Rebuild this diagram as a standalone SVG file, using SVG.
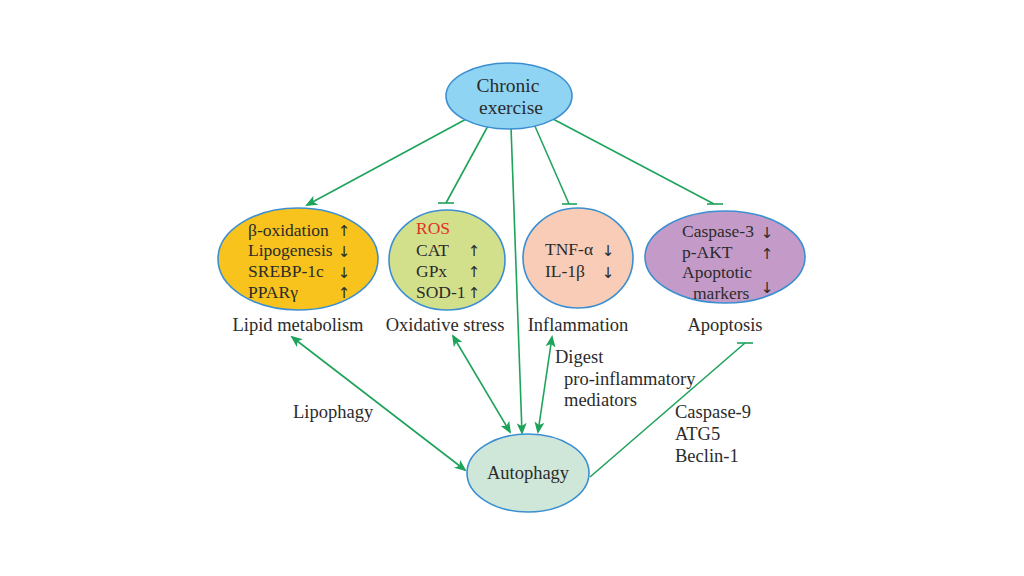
<svg xmlns="http://www.w3.org/2000/svg" width="1024" height="576" viewBox="0 0 1024 576">
<style>
text{font-family:"Liberation Serif","Times New Roman",serif;fill:#2b2b2b;font-size:18.5px}
.in{font-size:17.5px}
.c{text-anchor:middle}
.ar{font-family:"DejaVu Sans",sans-serif;font-size:15px}
.node{stroke:#3b8fd1;stroke-width:1.6}
.ln{stroke:#1ea35a;stroke-width:1.6;fill:none}
</style>
<defs>
<marker id="ah" markerWidth="12" markerHeight="10" refX="10" refY="5" orient="auto-start-reverse" markerUnits="userSpaceOnUse">
<path d="M0,0 L12,5 L0,10 L3,5 Z" fill="#1ea35a"/>
</marker>
</defs>
<rect width="1024" height="576" fill="#ffffff"/>
<g id="connectors">
<line class="ln" x1="470" y1="117" x2="307" y2="205" marker-end="url(#ah)"/>
<line class="ln" x1="489" y1="124" x2="446" y2="203"/>
<line class="ln" x1="438" y1="203" x2="454" y2="203"/>
<line class="ln" x1="511" y1="127" x2="522" y2="433" marker-end="url(#ah)"/>
<line class="ln" x1="534" y1="124" x2="569" y2="204"/>
<line class="ln" x1="562" y1="204" x2="577" y2="204"/>
<line class="ln" x1="553" y1="119" x2="714" y2="204"/>
<line class="ln" x1="707" y1="204" x2="723" y2="204"/>
<line class="ln" x1="292" y1="337" x2="465" y2="470" marker-start="url(#ah)" marker-end="url(#ah)"/>
<line class="ln" x1="453" y1="336" x2="510" y2="432" marker-start="url(#ah)" marker-end="url(#ah)"/>
<line class="ln" x1="552" y1="337" x2="538" y2="432" marker-start="url(#ah)" marker-end="url(#ah)"/>
<line class="ln" x1="590" y1="477" x2="745" y2="343"/>
<line class="ln" x1="737" y1="343" x2="753" y2="343"/>
<text x="293" y="418">Lipophagy</text>
<text x="555" y="363">Digest</text>
<text x="564" y="385">pro-inflammatory</text>
<text x="564" y="406">mediators</text>
<text x="675" y="418">Caspase-9</text>
<text x="675" y="440">ATG5</text>
<text x="675" y="462">Beclin-1</text>
</g>
<g id="chronic">
<ellipse class="node" cx="509" cy="96" rx="63" ry="33" fill="#8fd4f2"/>
<text class="c" x="508" y="92" style="font-size:19.5px">Chronic</text>
<text class="c" x="511" y="114" style="font-size:19.5px">exercise</text>
</g>
<g id="lipid">
<ellipse class="node" cx="298" cy="259" rx="80" ry="51" fill="#f7c31c"/>
<text class="in" x="248" y="236">β-oxidation</text>
<text class="in" x="248" y="256">Lipogenesis</text>
<text class="in" x="248" y="277">SREBP-1c</text>
<text class="in" x="248" y="298">PPARγ</text>
<text class="ar c" x="344" y="236">↑</text>
<text class="ar c" x="344" y="257">↓</text>
<text class="ar c" x="344" y="278">↓</text>
<text class="ar c" x="344" y="298">↑</text>
<text class="c" x="298" y="331">Lipid metabolism</text>
</g>
<g id="oxidative">
<ellipse class="node" cx="447" cy="260" rx="58" ry="50" fill="#d3e08b"/>
<text class="in" x="416" y="234" style="fill:#e2302a">ROS</text>
<text class="in" x="416" y="256">CAT</text>
<text class="in" x="416" y="277">GPx</text>
<text class="in" x="416" y="298">SOD-1</text>
<text class="ar c" x="474" y="256">↑</text>
<text class="ar c" x="474" y="277">↑</text>
<text class="ar c" x="474" y="298">↑</text>
<text class="c" x="445" y="331">Oxidative stress</text>
</g>
<g id="inflammation">
<ellipse class="node" cx="578" cy="258" rx="55" ry="50" fill="#f8ccb6"/>
<text class="in" x="545" y="255">TNF-α</text>
<text class="in" x="545" y="277">IL-1β</text>
<text class="ar c" x="608" y="256">↓</text>
<text class="ar c" x="608" y="278">↓</text>
<text class="c" x="578" y="331">Inflammation</text>
</g>
<g id="apoptosis">
<ellipse class="node" cx="725" cy="257" rx="80" ry="46" fill="#c49bc8"/>
<text class="in" x="682" y="237">Caspase-3</text>
<text class="in" x="682" y="258">p-AKT</text>
<text class="in" x="682" y="278">Apoptotic</text>
<text class="in" x="693" y="299">markers</text>
<text class="ar c" x="767" y="238">↓</text>
<text class="ar c" x="767" y="259">↑</text>
<text class="ar c" x="767" y="293">↓</text>
<text class="c" x="725" y="331">Apoptosis</text>
</g>
<g id="autophagy">
<ellipse class="node" cx="528" cy="473" rx="61" ry="39" fill="#cfe7d8"/>
<text class="c" x="528" y="479">Autophagy</text>
</g>
</svg>
